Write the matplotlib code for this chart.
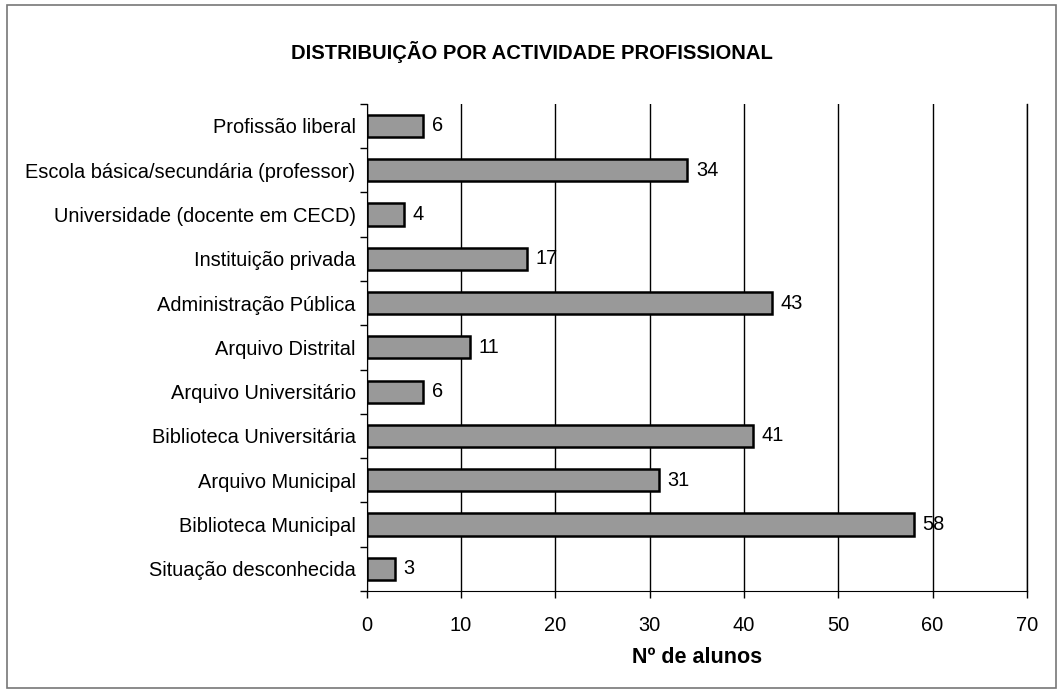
import numpy as np
import matplotlib.pyplot as plt
from matplotlib.patches import Rectangle

plt.rcParams['font.family'] = ['Liberation Sans', 'DejaVu Sans']

categorias = ['Profissão liberal', 'Escola básica/secundária (professor)',
              'Universidade (docente em CECD)', 'Instituição privada',
              'Administração Pública', 'Arquivo Distrital', 'Arquivo Universitário',
              'Biblioteca Universitária', 'Arquivo Municipal', 'Biblioteca Municipal',
              'Situação desconhecida']
alunos = [6, 34, 4, 17, 43, 11, 6, 41, 31, 58, 3]
xticks = [0, 10, 20, 30, 40, 50, 60, 70]

fig = plt.figure(figsize=(10.63, 6.92), dpi=100)
# moldura exterior
fig.patches.append(Rectangle((0.0066, 0.006), 0.987, 0.987, transform=fig.transFigure,
                             fill=False, edgecolor='#777777', lw=1.2))
ax = fig.add_axes([0.345, 0.146, 0.621, 0.704])

n = len(categorias)
y = np.arange(n)[::-1]
ax.barh(y, alunos, height=0.5, color='#999999', edgecolor='black', lw=1.8, zorder=2)
for yi, v in zip(y, alunos):
    ax.text(v + 0.9, yi, str(v), va='center', ha='left', fontsize=14.4, zorder=3)

ax.set_xlim(0, 70)
ax.set_ylim(-0.5, n - 0.5)
ax.set_xticks(xticks)
ax.set_yticks(y)
ax.set_yticklabels(categorias, fontsize=14.4)
ax.set_yticks(np.arange(n + 1) - 0.5, minor=True)
ax.tick_params(axis='y', which='major', length=0, pad=8)
ax.tick_params(axis='y', which='minor', length=5, width=1, direction='out')
ax.tick_params(axis='x', length=5, width=1, direction='out', labelsize=14.4, pad=13)
ax.xaxis.grid(True, color='black', lw=1, zorder=0)
ax.set_axisbelow(True)
ax.spines['top'].set_visible(False)
ax.spines['right'].set_linewidth(1)
ax.set_xlabel('Nº de alunos', fontsize=15.5, fontweight='bold', labelpad=9)

fig.text(0.5, 0.925, 'DISTRIBUIÇÃO POR ACTIVIDADE PROFISSIONAL', ha='center', va='center',
         fontsize=14.6, fontweight='bold')

fig.savefig('out.png', dpi=100)
